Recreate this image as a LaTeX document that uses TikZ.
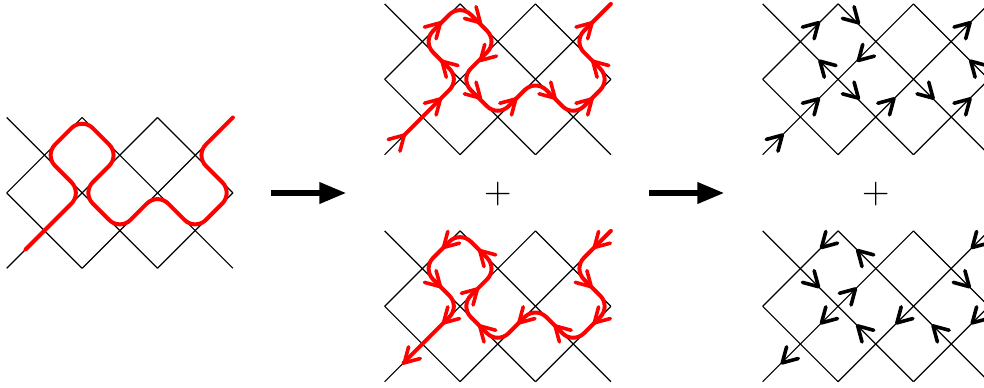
\documentclass[tikz,border=0pt]{standalone}
\usetikzlibrary{arrows.meta}
\tikzset{
  cell/.style={x=56.55pt,y=56.55pt},
  latline/.style={line width=0.9pt,black,line join=miter},
  redline/.style={line width=3pt,red,rounded corners=11.3pt,line cap=round},
  headline/.style={line width=2.7pt,line cap=round,line join=round},
  bigarrow/.style={line width=4.9pt,-{Triangle[length=20.5pt,width=15pt]}},
  plusmark/.style={inner sep=0pt,font=\fontsize{28.5}{30}\selectfont},
  barbhead/.pic={\draw[headline] (-10.8pt,6.2pt) .. controls (-5.4pt,2.7pt) .. (0,0) .. controls (-5.4pt,-2.7pt) .. (-10.8pt,-6.2pt);},
  lattice/.pic={
    \draw[latline] (0,2) -- (2,0) (1,2) -- (3,0) (0,1) -- (1,0) (2,2) -- (3,1);
    \draw[latline] (0,0) -- (2,2) (1,0) -- (3,2) (0,1) -- (1,2) (2,0) -- (3,1);
  },
  smoothed/.pic={
    \draw[redline] (0.25,0.25) -- (1,1) -- (0.5,1.5) -- (1,2) -- (1.5,1.5) -- (1,1) -- (1.5,0.5) -- (2,1) -- (2.5,0.5) -- (3,1) -- (2.5,1.5) -- (3,2);
  },
}
\newcommand{\upheads}{%
  \foreach \hx/\hy/\ha in {.26/.26/45,.74/.74/45,.76/1.24/135,.74/1.75/45,1.27/1.75/-45,1.27/1.25/-135,1.27/.75/-45,1.74/.74/45,2.26/.75/-45,2.75/.74/45,2.76/1.24/135,2.75/1.75/45}
    {\pic[rotate=\ha] at (\hx,\hy) {barbhead};}}
\newcommand{\downheads}{%
  \foreach \hx/\hy/\ha in {.26/.25/-135,.78/.78/-135,.74/1.26/-45,.78/1.78/-135,1.26/1.74/135,1.23/1.23/45,1.26/.74/135,1.78/.78/-135,2.26/.74/135,2.78/.78/-135,2.74/1.26/-45,2.78/1.78/-135}
    {\pic[rotate=\ha] at (\hx,\hy) {barbhead};}}
\begin{document}
\begin{tikzpicture}
\clip (0,0) rectangle (738pt,290.25pt);
% left panel
\begin{scope}[cell,shift={(5.03pt,89.03pt)}]
  \pic {lattice}; \pic {smoothed};
\end{scope}
% middle panels
\begin{scope}[cell,shift={(288.5pt,174.23pt)}]
  \pic {lattice}; \pic {smoothed};
  \begin{scope}[red]\upheads\end{scope}
\end{scope}
\begin{scope}[cell,shift={(288.5pt,3.98pt)}]
  \pic {lattice}; \pic {smoothed};
  \begin{scope}[red]\downheads\end{scope}
\end{scope}
% right panels
\begin{scope}[cell,shift={(572pt,174.23pt)}]
  \pic {lattice};
  \upheads
\end{scope}
\begin{scope}[cell,shift={(572pt,3.98pt)}]
  \pic {lattice};
  \downheads
\end{scope}
% big arrows
\coordinate (a1) at (203.5pt,145.5pt);
\coordinate (b1) at (260pt,145.5pt);
\coordinate (a2) at (487pt,145.5pt);
\coordinate (b2) at (543.5pt,145.5pt);
\draw[bigarrow] (a1) -- (b1);
\draw[bigarrow] (a2) -- (b2);
% plus signs
\node[plusmark] (p1) at (373.3pt,145pt) {+};
\node[plusmark] (p2) at (656.8pt,145pt) {+};
\end{tikzpicture}
\end{document}
